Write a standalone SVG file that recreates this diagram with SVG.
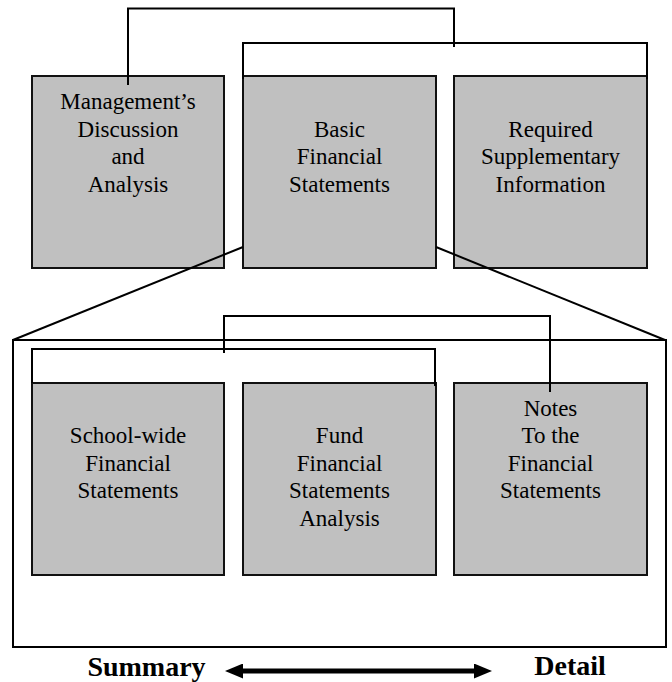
<svg xmlns="http://www.w3.org/2000/svg" width="672" height="682" viewBox="0 0 672 682">
<style>
.box{fill:#c0c0c0;stroke:#111;stroke-width:2}
.ln{fill:none;stroke:#000;stroke-width:2}
.t{font-family:"Liberation Serif","Times New Roman",serif;font-size:23px;fill:#000;text-anchor:middle}
.b{font-family:"Liberation Serif","Times New Roman",serif;font-size:28px;font-weight:bold;fill:#000;text-anchor:middle}
</style>
<defs>
<marker id="ah" markerUnits="userSpaceOnUse" markerWidth="18" markerHeight="15" refX="3" refY="7.5" orient="auto-start-reverse">
<path d="M0,0 L18,7.5 L0,15 z" fill="#000"/>
</marker>
</defs>
<rect x="0" y="0" width="672" height="682" fill="#fff"/>
<g id="frame">
<rect x="13" y="340" width="653" height="307" class="ln"/>
</g>
<g id="mda">
<rect class="box" x="32" y="76" width="192" height="192"/>
<text class="t" x="128" y="109">Management’s</text>
<text class="t" x="128" y="136.5">Discussion</text>
<text class="t" x="128" y="164">and</text>
<text class="t" x="128" y="191.5">Analysis</text>
</g>
<g id="bfs">
<rect class="box" x="243" y="76" width="193" height="192"/>
<text class="t" x="339.5" y="136.5">Basic</text>
<text class="t" x="339.5" y="164">Financial</text>
<text class="t" x="339.5" y="191.5">Statements</text>
</g>
<g id="rsi">
<rect class="box" x="454" y="76" width="193" height="192"/>
<text class="t" x="550.5" y="136.5">Required</text>
<text class="t" x="550.5" y="164">Supplementary</text>
<text class="t" x="550.5" y="191.5">Information</text>
</g>
<g id="swfs">
<rect class="box" x="32" y="383" width="192" height="192"/>
<text class="t" x="128" y="443">School-wide</text>
<text class="t" x="128" y="470.5">Financial</text>
<text class="t" x="128" y="498">Statements</text>
</g>
<g id="ffsa">
<rect class="box" x="243" y="383" width="193" height="192"/>
<text class="t" x="339.5" y="443">Fund</text>
<text class="t" x="339.5" y="470.5">Financial</text>
<text class="t" x="339.5" y="498">Statements</text>
<text class="t" x="339.5" y="525.5">Analysis</text>
</g>
<g id="notes">
<rect class="box" x="454" y="383" width="193" height="192"/>
<text class="t" x="550.5" y="416">Notes</text>
<text class="t" x="550.5" y="443">To the</text>
<text class="t" x="550.5" y="470.5">Financial</text>
<text class="t" x="550.5" y="498">Statements</text>
</g>
<g id="connectors">
<path class="ln" d="M128,85 V8.5 H454 V47"/>
<path class="ln" d="M243,79 V43 H647 V79"/>
<path class="ln" d="M243,247 L13,340"/>
<path class="ln" d="M436,247 L665,340"/>
<path class="ln" d="M224,353 V316 H550 V392"/>
<path class="ln" d="M32,383 V349 H435 V386"/>
<line x1="240" y1="671" x2="477" y2="671" stroke="#000" stroke-width="5" marker-start="url(#ah)" marker-end="url(#ah)"/>
</g>
<g id="labels">
<text class="b" x="146.5" y="676">Summary</text>
<text class="b" x="570" y="675">Detail</text>
</g>
</svg>
